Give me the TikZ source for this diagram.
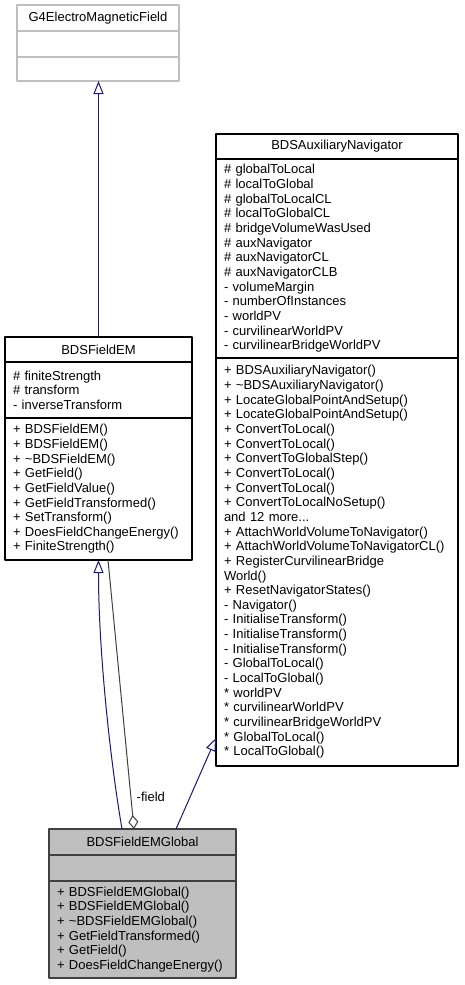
\documentclass[tikz,border=0pt]{standalone}
\usepackage{fontspec}
\setmainfont{Liberation Sans}
\usetikzlibrary{arrows.meta,positioning}
\definecolor{navyedge}{rgb}{0.1,0.1,0.44}
\definecolor{grayedge}{rgb}{0.25,0.25,0.25}
\definecolor{greyfill}{rgb}{0.75,0.75,0.75}

\begin{document}
\begin{tikzpicture}[line cap=round,line join=round,>={Triangle[open,length=13pt,width=10pt]},x=1pt,y={(0pt,-1pt)},
    cls/.style={draw,line width=1.1pt,outer sep=0pt,inner xsep=8pt,inner ysep=0pt,font=\fontsize{13}{14.65}\selectfont},
    clstitle/.style={cls,align=center,minimum height=25pt},
    clsbody/.style={cls,align=left},
    edge/.style={line width=1pt}]
         \useasboundingbox (0,0) rectangle (464,985);

         \node[clstitle,draw=greyfill,text width=146pt,minimum height=26pt,anchor=north west] (g4title) at (17,5) {G4ElectroMagneticField};
         \node[clsbody,draw=greyfill,text width=146pt,minimum height=26pt,below=0pt of g4title] (g4attr) {};
         \node[clsbody,draw=greyfill,text width=146pt,minimum height=24pt,below=0pt of g4attr] (g4meth) {};

         \node[clstitle,text width=171pt,anchor=north west] (emtitle) at (5,337) {BDSFieldEM};
         \node[clsbody,text width=171pt,minimum height=56pt,below=0pt of emtitle] (emattr) {\# finiteStrength\\\# transform\\- inverseTransform};
         \node[clsbody,text width=171pt,minimum height=142pt,below=0pt of emattr] (emmeth) {+ BDSFieldEM()\\+ BDSFieldEM()\\+ \textasciitilde BDSFieldEM()\\+ GetField()\\+ GetFieldValue()\\+ GetFieldTransformed()\\+ SetTransform()\\+ DoesFieldChangeEnergy()\\+ FiniteStrength()};

         \node[clstitle,text width=226pt,anchor=north west] (auxtitle) at (216,134) {BDSAuxiliaryNavigator};
         \node[clsbody,text width=226pt,minimum height=199pt,below=0pt of auxtitle] (auxattr) {\# globalToLocal\\\# localToGlobal\\\# globalToLocalCL\\\# localToGlobalCL\\\# bridgeVolumeWasUsed\\\# auxNavigator\\\# auxNavigatorCL\\\# auxNavigatorCLB\\- volumeMargin\\- numberOfInstances\\- worldPV\\- curvilinearWorldPV\\- curvilinearBridgeWorldPV};
         \node[clsbody,text width=226pt,minimum height=408pt,below=0pt of auxattr] (auxmeth) {+ BDSAuxiliaryNavigator()\\+ \textasciitilde BDSAuxiliaryNavigator()\\+ LocateGlobalPointAndSetup()\\+ LocateGlobalPointAndSetup()\\+ ConvertToLocal()\\+ ConvertToLocal()\\+ ConvertToGlobalStep()\\+ ConvertToLocal()\\+ ConvertToLocal()\\+ ConvertToLocalNoSetup()\\and 12 more...\\+ AttachWorldVolumeToNavigator()\\+ AttachWorldVolumeToNavigatorCL()\\+ RegisterCurvilinearBridge\\World()\\+ ResetNavigatorStates()\\- Navigator()\\- InitialiseTransform()\\- InitialiseTransform()\\- InitialiseTransform()\\- GlobalToLocal()\\- LocalToGlobal()\\{}* worldPV\\{}* curvilinearWorldPV\\{}* curvilinearBridgeWorldPV\\{}* GlobalToLocal()\\{}* LocalToGlobal()};

         \node[clstitle,draw=grayedge,fill=greyfill,text width=171pt,minimum height=26pt,anchor=north west] (globtitle) at (49,829) {BDSFieldEMGlobal};
         \node[clsbody,draw=grayedge,fill=greyfill,text width=171pt,minimum height=26pt,below=0pt of globtitle] (globattr) {};
         \node[clsbody,draw=grayedge,fill=greyfill,text width=171pt,minimum height=97pt,below=0pt of globattr] (globmeth) {+ BDSFieldEMGlobal()\\+ BDSFieldEMGlobal()\\+ \textasciitilde BDSFieldEMGlobal()\\+ GetFieldTransformed()\\+ GetField()\\+ DoesFieldChangeEnergy()};

         \draw[edge,->,color=navyedge] (emtitle.north) -- (emtitle.north |- g4meth.south);
         \draw[edge,->,color=navyedge] ([xshift=-20.5pt]globtitle.north) .. controls +(-12,-70) and +(0,90) .. (emmeth.south);
         \draw[edge,{Diamond[open,length=14pt,width=10pt]}-,color=grayedge] ([xshift=-8.5pt]globtitle.north) -- node[pos=0.12,right=2pt,font=\fontsize{13}{14.65}\selectfont,color=black] (fieldlbl) {-field} ([xshift=9.5pt]emmeth.south);
         \draw[edge,->,color=navyedge] ([xshift=33.5pt]globtitle.north) -- ([yshift=28pt]auxmeth.south west);
\end{tikzpicture}
\end{document}
